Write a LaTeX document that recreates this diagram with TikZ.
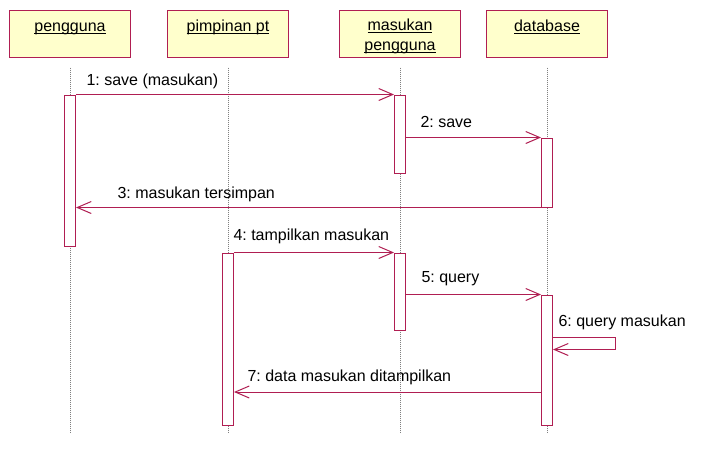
\documentclass[tikz,border=0pt]{standalone}
\usepackage{fontspec}
\setmainfont{Liberation Sans}
\usetikzlibrary{arrows.meta}
\frenchspacing

\definecolor{umlborder}{RGB}{176,30,82}
\definecolor{umlfill}{RGB}{255,255,204}

\newcommand{\objname}[1]{\rule{0pt}{16.5pt}\underline{\smash{#1}}}

\tikzset{
  obj/.style={draw=umlborder, fill=umlfill, line width=1pt, minimum width=121, minimum height=47, align=center, inner sep=0pt},
  act/.style={draw=umlborder, fill=white, line width=1pt, minimum width=11, inner sep=0pt},
  lifeline/.style={draw=gray, line width=0.8pt, dash pattern=on 1pt off 1pt},
  msg/.style={draw=umlborder, line width=1pt, -{Straight Barb[length=14pt,width=12pt]}},
  lbl/.style={anchor=base west, inner sep=0pt}
}

\begin{document}
\begin{tikzpicture}[x=1pt, y=-1pt, font=\fontsize{16}{20}\selectfont]

\fill[white] (0,0) rectangle (706,459);
\useasboundingbox (0,0) rectangle (706,459);

% objects
\node at (70,33.5) [obj] (pengguna) {\objname{pengguna}\\~};
\node at (228,33.5) [obj] (pimpinan) {\objname{pimpinan pt}\\~};
\node at (400,33.5) [obj] (masukan) {\objname{masukan}\\\underline{\smash{pengguna}}};
\node at (547,33.5) [obj] (database) {\objname{database}\\~};

\coordinate (bottom) at (0,432);
\foreach \o in {pengguna,pimpinan,masukan,database}
  \draw[lifeline] ([yshift=-10pt]\o.south) -- (\o.south |- bottom);

% activations
\node at (70,170.5) [act, minimum height=151] (act1) {};
\node at (400,134) [act, minimum height=78] (act2) {};
\node at (547,172.5) [act, minimum height=69] (act3) {};
\node at (228,339) [act, minimum height=172] (act4) {};
\node at (400,291.5) [act, minimum height=77] (act5) {};
\node at (547,360) [act, minimum height=130] (act6) {};

% messages
\draw[msg] (act1.north east) -- node[lbl, at start, xshift=10pt, yshift=9pt] {1: save (masukan)} (act2.north west);
\draw[msg] (act2.east |- act3.north) -- node[lbl, at start, xshift=14pt, yshift=10pt] {2: save} (act3.north west);
\draw[msg] (act3.south west) -- node[lbl, at end, xshift=41pt, yshift=9pt] {3: masukan tersimpan} (act1.east |- act3.south);
\draw[msg] (act4.north east) -- node[lbl, at start, xshift=-1pt, yshift=12pt] {4: tampilkan masukan} (act5.north west);
\draw[msg] (act5.east |- act6.north) -- node[lbl, at start, xshift=15pt, yshift=12pt] {5: query} (act6.north west);

\draw[msg] ([yshift=-43pt]act6.north east) -- node[lbl, at start, xshift=5pt, yshift=11pt] {6: query masukan} ++(62,0) -- ++(0,12) -- ([yshift=-55pt]act6.north east);

\coordinate (ymsg7) at (0,392);
\draw[msg] (act6.west |- ymsg7) -- node[lbl, at end, xshift=13pt, yshift=11pt] {7: data masukan ditampilkan} (act4.east |- ymsg7);

\end{tikzpicture}
\end{document}
